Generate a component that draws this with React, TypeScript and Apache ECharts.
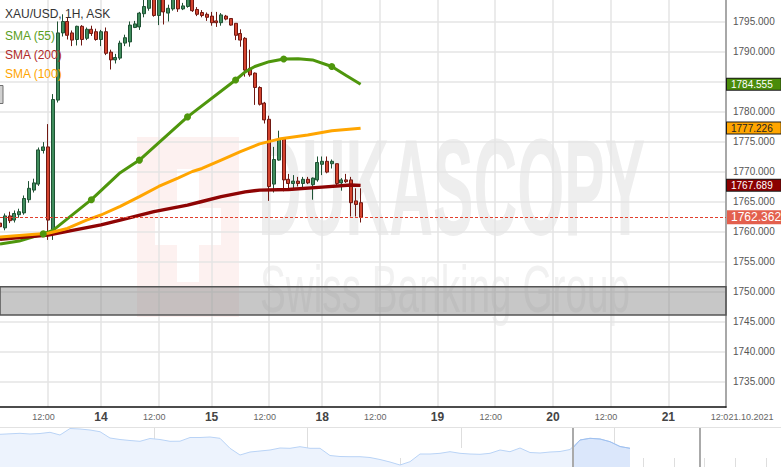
import React, { useEffect, useRef } from 'react';
import * as echarts from 'echarts';

const FONT = '"Liberation Sans", Arial, Helvetica, sans-serif';

// ---- time axis (hourly candles, gold daily break at 21:00, weekend skipped) ----
const sessionDays = ['13', '14', '15', '17', '18', '19', '20', '21'];
const sessionFirstHour = [2, 0, 0, 22, 0, 0, 0, 0];
const sessionLastHour = [23, 23, 20, 23, 23, 23, 23, 12];
const dailyBreakDays = ['13', '14'];
const dailyBreakHour = 21;
const lastAxisDate = '21.10.2021';

// ---- XAU/USD 1H candles (13 Oct 02:00 .. 18 Oct 08:00) ----
const opens = [
  1761.4, 1760.6, 1762.6, 1761.9, 1762.8, 1763.1, 1765.3, 1766.9, 1767.9, 1773.5,
  1774.1, 1760.3, 1781.9, 1793.1, 1795.0, 1793.1, 1792.0, 1794.2, 1792.2, 1793.7,
  1793.3, 1792.0, 1793.3, 1789.9, 1788.6, 1788.9, 1791.4, 1791.6, 1794.0, 1794.1,
  1796.3, 1797.2, 1799.2, 1796.0, 1799.0, 1796.4, 1797.1, 1798.9, 1797.1, 1797.5,
  1799.0, 1797.0, 1796.5, 1796.2, 1795.9, 1795.1, 1794.8, 1795.9, 1795.5, 1794.7,
  1793.0, 1792.2, 1787.2, 1786.4, 1784.0, 1781.4, 1778.7, 1767.9, 1771.9, 1775.4,
  1768.7, 1768.0, 1768.4, 1768.0, 1768.7, 1767.8, 1768.6, 1771.2, 1771.7, 1771.3,
  1771.3, 1768.1, 1768.6, 1768.6, 1765.1, 1764.8,
];
const closes = [
  1760.8, 1762.6, 1761.8, 1763.0, 1763.3, 1765.5, 1767.2, 1768.1, 1773.6, 1774.1,
  1761.9, 1782.0, 1793.1, 1795.0, 1792.7, 1791.9, 1794.2, 1792.0, 1793.7, 1793.0,
  1792.0, 1793.3, 1789.7, 1788.6, 1789.0, 1791.4, 1792.3, 1794.4, 1794.6, 1796.4,
  1797.5, 1799.3, 1796.0, 1799.0, 1796.6, 1797.2, 1799.0, 1797.1, 1797.6, 1799.0,
  1796.8, 1796.2, 1796.0, 1795.7, 1794.8, 1794.8, 1796.1, 1795.4, 1794.4, 1792.7,
  1791.9, 1786.9, 1786.1, 1784.0, 1781.2, 1778.6, 1767.5, 1772.0, 1775.4, 1768.6,
  1768.0, 1768.4, 1768.0, 1768.7, 1768.1, 1768.9, 1771.5, 1771.7, 1769.9, 1771.7,
  1768.0, 1768.6, 1768.3, 1764.8, 1764.5, 1762.362,
];
const lows = [
  1760.3, 1760.2, 1761.4, 1761.5, 1762.3, 1762.8, 1764.8, 1766.5, 1767.6, 1773.0,
  1758.6, 1758.6, 1781.5, 1792.5, 1792.0, 1790.9, 1791.0, 1791.0, 1791.9, 1792.6,
  1791.8, 1790.9, 1789.4, 1787.0, 1788.0, 1788.6, 1790.9, 1790.8, 1793.9, 1793.6,
  1795.7, 1796.8, 1795.8, 1794.4, 1794.5, 1795.0, 1796.8, 1796.6, 1796.9, 1797.3,
  1796.6, 1795.9, 1795.7, 1795.1, 1794.3, 1794.1, 1794.3, 1795.2, 1794.3, 1791.9,
  1790.8, 1785.8, 1785.8, 1781.1, 1781.0, 1778.0, 1765.1, 1766.5, 1771.8, 1766.7,
  1766.8, 1767.2, 1767.5, 1767.2, 1767.9, 1765.3, 1768.3, 1769.4, 1769.7, 1770.5,
  1767.7, 1766.8, 1768.1, 1762.5, 1762.5, 1761.5,
];
const highs = [
  1762.0, 1763.0, 1763.3, 1763.5, 1763.8, 1766.0, 1768.4, 1768.8, 1774.0, 1774.9,
  1777.9, 1782.9, 1795.0, 1796.2, 1795.6, 1793.5, 1794.3, 1794.4, 1794.0, 1794.3,
  1793.8, 1793.6, 1794.0, 1790.3, 1789.6, 1791.8, 1792.8, 1795.0, 1795.1, 1796.6,
  1799.0, 1799.8, 1799.6, 1799.5, 1799.5, 1797.8, 1799.5, 1799.3, 1798.1, 1799.6,
  1799.4, 1797.4, 1796.9, 1796.5, 1796.6, 1796.6, 1796.4, 1796.1, 1795.5, 1794.7,
  1793.7, 1792.4, 1790.3, 1786.5, 1784.2, 1781.6, 1779.3, 1774.1, 1776.8, 1775.4,
  1769.6, 1769.4, 1769.1, 1769.1, 1769.1, 1769.0, 1772.5, 1772.5, 1772.5, 1772.0,
  1771.3, 1768.9, 1769.6, 1769.1, 1767.2, 1767.2,
];
const lastPrice = 1762.362;

// ---- moving averages (candle index -> value) ----
const sma55Index = [0, 4, 9, 11, 19, 25, 29, 39, 49, 51, 53, 56, 59, 62, 65, 69, 72, 75];
const sma55Value = [1757.9, 1758.4, 1759.6, 1760.2, 1765.3, 1769.8, 1771.9, 1779.1, 1785.25, 1786.6, 1787.5, 1788.3, 1788.75, 1788.8, 1788.6, 1787.5, 1786.0, 1784.555];
const sma55Dots = [9, 19, 29, 39, 49, 59, 69];

const sma100Index = [0, 10, 14, 18, 21, 25, 29, 33, 37, 40, 42, 46, 50, 54, 58, 64, 69, 75];
const sma100Value = [1759.1, 1759.7, 1760.5, 1761.9, 1762.75, 1764.2, 1765.8, 1767.5, 1768.9, 1770.0, 1770.5, 1771.9, 1773.3, 1774.6, 1775.4, 1776.1, 1776.8, 1777.226];

const sma200Index = [0, 10, 21, 25, 32, 39, 42, 46, 51, 54, 60, 67, 73, 75];
const sma200Value = [1758.7, 1759.4, 1761.1, 1761.9, 1763.3, 1764.4, 1765.0, 1765.8, 1766.6, 1766.9, 1767.0, 1767.4, 1767.75, 1767.689];

// ---- price axis ticks & zone ----
const priceTicks = [1735, 1740, 1745, 1750, 1755, 1760, 1765, 1770, 1775, 1780, 1785, 1790, 1795];
const hiddenPriceLabels = [1785]; // covered by the SMA (55) value tag
const zoneTop = 1750.8;
const zoneBottom = 1746.1;

// ---- navigator (overview strip) ----
const navLevels = [
  32.7, 33.2, 33.7, 33.0, 33.5, 34.7, 32.0, 38.5, 38.0, 37.0,
  35.3, 29.0, 27.5, 26.5, 25.7, 28.5, 27.5, 25.7, 25.8, 29.5,
  29.5, 30.0, 28.7, 18.7, 12.0, 15.0, 16.0, 17.0, 19.0, 18.7,
  20.3, 18.7, 18.7, 11.5, 10.5, 10.3, 10.3, 9.5, 7.5, 5.0,
  2.0, 5.3, 13.0, 13.0, 13.7, 15.3, 13.7, 13.0, 12.7, 13.7,
  17.0, 15.3, 19.0, 14.5, 14.0, 15.0, 15.5, 17.5, 27.0, 28.7,
  28.0, 25.3, 20.5, 18.7,
];
const navWindowStart = 57.27;
const navWindowEnd = 69.93;
const navWindowStartLevel = 18.7;
const navMinorTicks = [3.23, 6.27, 9.37, 12.4, 18.5, 21.57, 24.63, 27.7, 33.83, 36.93, 40.0, 42.93, 49.1, 52.17, 55.23, 58.3, 64.33, 67.4, 70.43, 73.5, 76.6];
const navMajorTicks = [15.43, 30.77, 46.1, 61.43];

const GREEN = '#4e960c';
const ORANGE = '#ffa500';
const DARKRED = '#8e0404';

function buildCategories(): string[] {
  const out: string[] = [];
  sessionDays.forEach((d, j) => {
    for (let h = sessionFirstHour[j]; h <= sessionLastHour[j]; h++) {
      if (dailyBreakDays.includes(d) && h === dailyBreakHour) continue;
      out.push(`${d} ${String(h).padStart(2, '0')}:00`);
    }
  });
  return out;
}

const isMark = (_i: number, v: string) => v.endsWith(' 00:00') || v.endsWith(' 12:00');

function valueTag(value: number, bg: string, fg: string, border: string) {
  return {
    silent: true,
    symbol: ['none', 'none'],
    lineStyle: { color: 'rgba(0,0,0,0)', width: 0 },
    label: {
      show: true,
      position: 'end',
      distance: 1,
      formatter: value.toFixed(3),
      backgroundColor: bg,
      color: fg,
      borderColor: border,
      borderWidth: 1,
      padding: [1, 8, 0, 4],
      fontSize: 10,
      lineHeight: 10,
      fontFamily: FONT,
    },
    data: [{ yAxis: value }],
  };
}

function buildOption() {
  const categories = buildCategories();
  const lastCategory = categories[categories.length - 1];
  const candles = opens.map((o, i) => [o, closes[i], lows[i], highs[i]]);
  const pairs = (idx: number[], val: number[]) => idx.map((k, j) => [k, val[j]]);
  const labelTicks = priceTicks.filter((v) => !hiddenPriceLabels.includes(v));

  const windowData = [[navWindowStart, navWindowStartLevel]].concat(
    navLevels.slice(58).map((h, j) => [58 + j, h])
  );

  return {
    animation: false,
    backgroundColor: '#ffffff',
    textStyle: { fontFamily: FONT },
    title: {
      text: 'XAU/USD, 1H, ASK',
      left: 5,
      top: 8,
      padding: 0,
      textStyle: { fontSize: 12, fontWeight: 'normal', color: '#333', fontFamily: FONT },
    },
    legend: {
      orient: 'vertical',
      left: 0,
      top: 29,
      padding: 0,
      itemGap: 6,
      itemWidth: 0,
      itemHeight: 14,
      icon: 'none',
      selectedMode: false,
      textStyle: { fontSize: 12, fontFamily: FONT },
      data: [
        { name: 'SMA (55)', icon: 'none', textStyle: { color: '#5a9e22' } },
        { name: 'SMA (200)', icon: 'none', textStyle: { color: '#b02a2a' } },
        { name: 'SMA (100)', icon: 'none', textStyle: { color: ORANGE } },
      ],
    },
    grid: [
      { left: 0, right: 55, top: 0, bottom: 60 },
      { left: 0, right: 0, top: 428, height: 39 },
    ],
    xAxis: [
      {
        type: 'category',
        gridIndex: 0,
        data: categories,
        boundaryGap: false,
        axisLine: { show: true, lineStyle: { color: '#111', width: 1.5 } },
        axisTick: { show: false },
        axisLabel: {
          interval: isMark,
          margin: 3,
          formatter: (v: string) => {
            if (v === lastCategory) return '{e|12:0}';
            if (v.endsWith(' 00:00')) return `{d|${v.slice(0, 2)}}`;
            if (v.endsWith(' 12:00')) return '{h|12:00}';
            return '';
          },
          rich: {
            d: { fontSize: 12, fontWeight: 'bold', color: '#444', lineHeight: 14, fontFamily: FONT },
            h: { fontSize: 9, color: '#666', lineHeight: 14, padding: [0, 9, 0, 0], fontFamily: FONT },
            e: { fontSize: 9, color: '#666', lineHeight: 14, padding: [0, 13, 0, 0], fontFamily: FONT },
          },
        },
        splitLine: { show: true, interval: isMark, lineStyle: { color: '#e4e4e4', width: 1.5 } },
      },
      {
        type: 'value',
        gridIndex: 1,
        min: 0,
        max: 78.1,
        axisLine: { show: false },
        axisLabel: { show: false },
        splitLine: { show: false },
        axisTick: { show: true, inside: true, length: 9, customValues: navMinorTicks, lineStyle: { color: '#dedede' } },
      },
      {
        type: 'value',
        gridIndex: 1,
        min: 0,
        max: 78.1,
        axisLine: { show: false },
        axisLabel: { show: false },
        splitLine: { show: false },
        axisTick: { show: true, inside: true, length: 20, customValues: navMajorTicks, lineStyle: { color: '#dedede' } },
      },
    ],
    yAxis: [
      {
        type: 'value',
        gridIndex: 0,
        position: 'right',
        min: 1730.75,
        max: 1798.583,
        splitNumber: 14,
        axisLine: { show: true, lineStyle: { color: '#a8a8a8', width: 2 } },
        axisTick: { show: false, customValues: priceTicks },
        axisLabel: {
          customValues: labelTicks,
          formatter: (v: number) => v.toFixed(3),
          fontSize: 10,
          color: '#555',
          margin: 7,
          fontFamily: FONT,
        },
        splitLine: { show: true, lineStyle: { color: '#e4e4e4', width: 1.5 } },
      },
      { type: 'value', gridIndex: 1, min: 0, max: 39, show: false },
    ],
    graphic: [
      { type: 'rect', z: -10, silent: true, shape: { x: 137, y: 137, width: 102, height: 180 }, style: { fill: 'rgba(228,60,40,0.07)' } },
      { type: 'rect', z: -9, silent: true, shape: { x: 177, y: 169, width: 22, height: 113 }, style: { fill: '#ffffff' } },
      { type: 'rect', z: -9, silent: true, shape: { x: 155, y: 208, width: 66, height: 37 }, style: { fill: '#ffffff' } },
      {
        type: 'text', z: -10, silent: true, x: 258, y: 187.5, scaleX: 0.606, scaleY: 1.38,
        style: { text: 'DUKASCOPY', fontSize: 100, fontWeight: 'bold', fontFamily: FONT, fill: '#eeeeee', align: 'left', verticalAlign: 'middle' },
      },
      {
        type: 'text', z: -10, silent: true, x: 260, y: 289, scaleX: 0.645, scaleY: 1.117,
        style: { text: 'Swiss Banking Group', fontSize: 60, fontFamily: FONT, fill: '#f1f1f1', align: 'left', verticalAlign: 'middle' },
      },
      { type: 'rect', silent: true, shape: { x: -2, y: 85.5, width: 5, height: 18 }, style: { fill: '#d0d0d0', stroke: '#707070', lineWidth: 1 } },
      { type: 'line', silent: true, shape: { x1: 0, y1: 427.5, x2: 781, y2: 427.5 }, style: { stroke: '#e2e2e2', lineWidth: 1 } },
      {
        type: 'text', z: 100, silent: true, x: 728.5, y: 417,
        style: { text: lastAxisDate, fontSize: 9, fontFamily: FONT, fill: '#666', align: 'left', verticalAlign: 'middle' },
      },
    ],
    series: [
      {
        name: 'SMA (55)',
        type: 'line',
        xAxisIndex: 0,
        yAxisIndex: 0,
        data: pairs(sma55Index, sma55Value),
        symbol: 'circle',
        showSymbol: true,
        showAllSymbol: true,
        symbolSize: (_v: any, p: any) => (sma55Dots.includes(sma55Index[p.dataIndex]) ? 7 : 0),
        itemStyle: { color: GREEN },
        lineStyle: { color: GREEN, width: 3 },
        markLine: valueTag(sma55Value[sma55Value.length - 1], '#4a8c0a', '#ffffff', '#1a1a1a'),
        silent: true,
      },
      {
        name: 'SMA (200)',
        type: 'line',
        xAxisIndex: 0,
        yAxisIndex: 0,
        data: pairs(sma200Index, sma200Value),
        symbol: 'none',
        itemStyle: { color: DARKRED },
        lineStyle: { color: DARKRED, width: 3.4 },
        markLine: valueTag(sma200Value[sma200Value.length - 1], '#8b0000', '#ffffff', '#1a1a1a'),
        silent: true,
      },
      {
        name: 'SMA (100)',
        type: 'line',
        xAxisIndex: 0,
        yAxisIndex: 0,
        data: pairs(sma100Index, sma100Value),
        symbol: 'none',
        itemStyle: { color: ORANGE },
        lineStyle: { color: ORANGE, width: 3 },
        markLine: valueTag(sma100Value[sma100Value.length - 1], '#ffa500', '#222222', '#1a1a1a'),
        silent: true,
      },
      {
        name: 'XAU/USD',
        type: 'candlestick',
        xAxisIndex: 0,
        yAxisIndex: 0,
        data: candles,
        barWidth: 3.5,
        clip: true,
        silent: true,
        itemStyle: {
          color: '#3f8c5c',
          color0: '#d3432e',
          borderColor: '#1f5234',
          borderColor0: '#701812',
          borderWidth: 1,
        },
        markLine: {
          silent: true,
          symbol: ['none', 'none'],
          lineStyle: { color: '#e2402e', width: 1, type: [3, 2], opacity: 1 },
          label: {
            show: true,
            position: 'end',
            distance: 1,
            formatter: lastPrice.toFixed(3),
            backgroundColor: '#e3604e',
            color: '#ffffff',
            padding: [1, 3, 1, 4],
            fontSize: 12,
            lineHeight: 12,
            fontFamily: FONT,
          },
          data: [{ yAxis: lastPrice }],
        },
        markArea: {
          silent: true,
          itemStyle: { color: 'rgba(128,128,128,0.44)', borderColor: '#555', borderWidth: 1.5 },
          data: [[{ yAxis: zoneTop }, { yAxis: zoneBottom }]],
        },
      },
      {
        name: 'navigator',
        type: 'line',
        xAxisIndex: 1,
        yAxisIndex: 1,
        data: navLevels.map((h, k) => [k, h]),
        symbol: 'none',
        silent: true,
        lineStyle: { color: '#b9d3f6', width: 1 },
        areaStyle: { color: '#edf3fd', opacity: 1 },
      },
      {
        name: 'navigator window',
        type: 'line',
        xAxisIndex: 1,
        yAxisIndex: 1,
        data: windowData,
        symbol: 'none',
        silent: true,
        lineStyle: { color: '#9fc0ef', width: 1 },
        areaStyle: { color: '#dbe7fb', opacity: 1 },
        markLine: {
          silent: true,
          symbol: ['none', 'none'],
          label: { show: false },
          lineStyle: { color: '#aaaaaa', width: 2, type: 'solid' },
          data: [{ xAxis: navWindowStart }, { xAxis: navWindowEnd }],
        },
      },
    ],
  };
}

export default function App() {
  const ref = useRef<HTMLDivElement>(null);
  useEffect(() => {
    if (!ref.current) return;
    const chart = echarts.init(ref.current, undefined, { renderer: 'svg' });
    chart.setOption(buildOption() as any);
    return () => chart.dispose();
  }, []);
  return (
    <div
      ref={ref}
      style={{ position: 'fixed', left: 0, top: 0, width: 781, height: 467, background: '#fff' }}
    />
  );
}
